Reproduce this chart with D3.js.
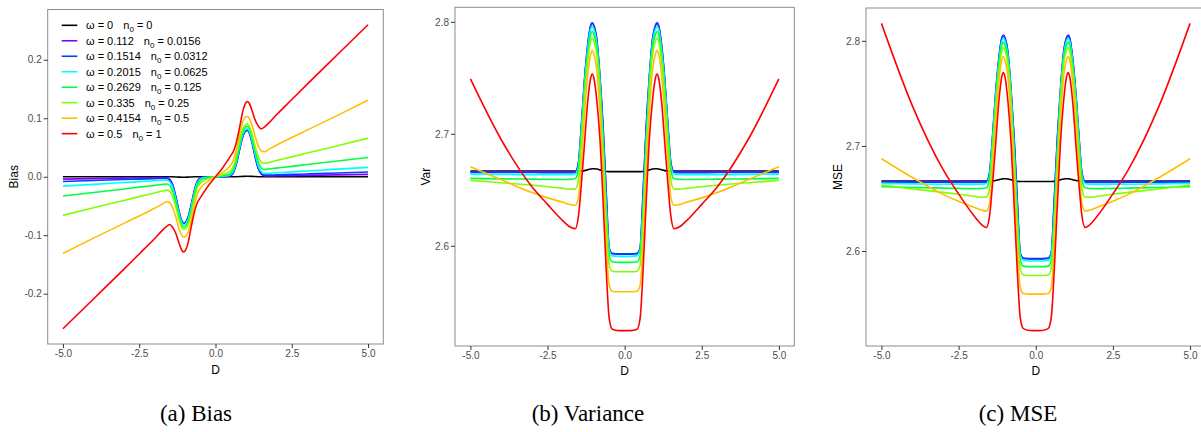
<!DOCTYPE html>
<html>
<head>
<meta charset="utf-8">
<script src="https://cdn.jsdelivr.net/npm/d3@7/dist/d3.min.js"></script>
<style>
  body { margin: 0; background: #fff; }
  svg { display: block; }
</style>
</head>
<body>
<div id="chart"></div>
<script>
// grid of D values shared by every curve
var dGrid = [-5,-4,-3,-2.5,-2,-1.75,-1.6,-1.5,-1.4,-1.3,-1.2,-1.1,-1.05,-1,-0.9,-0.8,-0.7,-0.6,-0.5,-0.4,-0.2,
  0,0.2,0.4,0.5,0.6,0.7,0.8,0.9,1,1.05,1.1,1.2,1.3,1.4,1.5,1.6,1.75,2,2.5,3,4,5];

var omegaLabels = ["0", "0.112", "0.1514", "0.2015", "0.2629", "0.335", "0.4154", "0.5"];
var n0Labels = ["0", "0.0156", "0.0312", "0.0625", "0.125", "0.25", "0.5", "1"];

var xTicks = [-5, -2.5, 0, 2.5, 5];
var biasTicks = [-0.2, -0.1, 0, 0.1, 0.2];
var varTicks = [2.6, 2.7, 2.8];
var mseTicks = [2.6, 2.7, 2.8];

// Bias
var biasW0 = [0,0,0,0,0,0,0,0,-0.0001,-0.0003,-0.0006,-0.0008,-0.0008,-0.0008,-0.0006,-0.0003,-0.0001,0,0,0,0,
  0,0,0,0,0,0.0001,0.0003,0.0006,0.0008,0.0008,0.0008,0.0006,0.0003,0.0001,0,0,0,0,0,0,0,0];
var biasW1 = [-0.004,-0.0032,-0.0024,-0.002,-0.0016,-0.0015,-0.0018,-0.0045,-0.014,-0.034,-0.058,-0.076,-0.0792,-0.0787,-0.069,-0.049,-0.025,-0.008,-0.002,-0.0005,-0.0001,
  0,0.0001,0.0005,0.002,0.008,0.025,0.049,0.069,0.0787,0.0792,0.076,0.058,0.034,0.014,0.0045,0.0018,0.0015,0.0016,0.002,0.0024,0.0032,0.004];
var biasW2 = [-0.008,-0.0064,-0.0048,-0.004,-0.0032,-0.0028,-0.003,-0.0055,-0.015,-0.035,-0.059,-0.0765,-0.0795,-0.079,-0.07,-0.05,-0.026,-0.009,-0.003,-0.001,-0.0003,
  0,0.0003,0.001,0.003,0.009,0.026,0.05,0.07,0.079,0.0795,0.0765,0.059,0.035,0.015,0.0055,0.003,0.0028,0.0032,0.004,0.0048,0.0064,0.008];
var biasW3 = [-0.016,-0.013,-0.0099,-0.0084,-0.0068,-0.006,-0.006,-0.009,-0.019,-0.039,-0.062,-0.079,-0.0821,-0.0815,-0.073,-0.053,-0.029,-0.011,-0.004,-0.0017,-0.0007,
  0,0.0007,0.0017,0.004,0.011,0.029,0.053,0.073,0.0815,0.0821,0.079,0.062,0.039,0.019,0.009,0.006,0.006,0.0068,0.0084,0.0099,0.013,0.016];
var biasW4 = [-0.033,-0.027,-0.0209,-0.0178,-0.0148,-0.0133,-0.0125,-0.015,-0.025,-0.044,-0.067,-0.083,-0.086,-0.0855,-0.077,-0.058,-0.033,-0.014,-0.006,-0.0035,-0.0015,
  0,0.0015,0.0035,0.006,0.014,0.033,0.058,0.077,0.0855,0.086,0.083,0.067,0.044,0.025,0.015,0.0125,0.0133,0.0148,0.0178,0.0209,0.027,0.033];
var biasW5 = [-0.066,-0.053,-0.0405,-0.034,-0.0277,-0.0245,-0.0228,-0.025,-0.034,-0.052,-0.073,-0.087,-0.0901,-0.0895,-0.083,-0.065,-0.04,-0.02,-0.011,-0.007,-0.003,
  0,0.003,0.007,0.011,0.02,0.04,0.065,0.083,0.0895,0.0901,0.087,0.073,0.052,0.034,0.025,0.0228,0.0245,0.0277,0.034,0.0405,0.053,0.066];
var biasW6 = [-0.131,-0.105,-0.0797,-0.067,-0.054,-0.0468,-0.0428,-0.0445,-0.053,-0.069,-0.088,-0.1005,-0.1031,-0.1025,-0.095,-0.075,-0.05,-0.03,-0.02,-0.014,-0.006,
  0,0.006,0.014,0.02,0.03,0.05,0.075,0.095,0.1025,0.1031,0.1005,0.088,0.069,0.053,0.0445,0.0428,0.0468,0.054,0.067,0.0797,0.105,0.131];
var biasW7 = [-0.26,-0.209,-0.158,-0.132,-0.106,-0.092,-0.085,-0.0816,-0.087,-0.097,-0.113,-0.126,-0.1286,-0.127,-0.113,-0.087,-0.062,-0.045,-0.036,-0.028,-0.013,
  0,0.013,0.028,0.036,0.045,0.062,0.087,0.113,0.127,0.1286,0.126,0.113,0.097,0.087,0.0816,0.085,0.092,0.106,0.132,0.158,0.209,0.26];

// Variance
var varW0 = [2.6667,2.6667,2.6667,2.6667,2.6667,2.6667,2.6667,2.6667,2.6668,2.6671,2.6679,2.6686,2.6688,2.6688,2.6686,2.6678,2.6668,2.6663,2.6662,2.6662,2.6662,
  2.6662,2.6662,2.6662,2.6662,2.6663,2.6668,2.6678,2.6686,2.6688,2.6688,2.6686,2.6679,2.6671,2.6668,2.6667,2.6667,2.6667,2.6667,2.6667,2.6667,2.6667,2.6667];
var varW1 = [2.6661,2.6661,2.6661,2.6661,2.6661,2.6661,2.6663,2.674,2.709,2.749,2.779,2.797,2.7992,2.797,2.784,2.751,2.707,2.649,2.598,2.5932,2.5928,
  2.5928,2.5928,2.5932,2.598,2.649,2.707,2.751,2.784,2.797,2.7992,2.797,2.779,2.749,2.709,2.674,2.6663,2.6661,2.6661,2.6661,2.6661,2.6661,2.6661];
var varW2 = [2.6656,2.6655,2.6654,2.6653,2.6653,2.6653,2.6658,2.673,2.708,2.748,2.778,2.7965,2.7988,2.7965,2.783,2.75,2.706,2.648,2.5975,2.593,2.5926,
  2.5926,2.5926,2.593,2.5975,2.648,2.706,2.75,2.783,2.7965,2.7988,2.7965,2.778,2.748,2.708,2.673,2.6658,2.6653,2.6653,2.6653,2.6654,2.6655,2.6656];
var varW3 = [2.664,2.6637,2.6635,2.6634,2.6634,2.6635,2.6642,2.671,2.705,2.745,2.775,2.7935,2.7958,2.7935,2.78,2.747,2.697,2.637,2.596,2.591,2.5906,
  2.5906,2.5906,2.591,2.596,2.637,2.697,2.747,2.78,2.7935,2.7958,2.7935,2.775,2.745,2.705,2.671,2.6642,2.6635,2.6634,2.6634,2.6635,2.6637,2.664];
var varW4 = [2.6602,2.6598,2.6595,2.6593,2.6592,2.6593,2.66,2.667,2.7,2.74,2.77,2.789,2.7914,2.789,2.776,2.742,2.691,2.631,2.591,2.5857,2.5852,
  2.5852,2.5852,2.5857,2.591,2.631,2.691,2.742,2.776,2.789,2.7914,2.789,2.77,2.74,2.7,2.667,2.66,2.6593,2.6592,2.6593,2.6595,2.6598,2.6602];
var varW5 = [2.6584,2.6563,2.6542,2.6528,2.6513,2.6506,2.6508,2.658,2.692,2.733,2.764,2.783,2.7855,2.783,2.77,2.735,2.684,2.623,2.5825,2.5773,2.5768,
  2.5768,2.5768,2.5773,2.5825,2.623,2.684,2.735,2.77,2.783,2.7855,2.783,2.764,2.733,2.692,2.658,2.6508,2.6506,2.6513,2.6528,2.6542,2.6563,2.6584];
var varW6 = [2.6706,2.659,2.6475,2.6428,2.6388,2.6368,2.6362,2.643,2.677,2.718,2.752,2.7715,2.7744,2.7715,2.756,2.719,2.666,2.604,2.5645,2.5595,2.559,
  2.559,2.559,2.5595,2.5645,2.604,2.666,2.719,2.756,2.7715,2.7744,2.7715,2.752,2.718,2.677,2.643,2.6362,2.6368,2.6388,2.6428,2.6475,2.659,2.6706];
var varW7 = [2.749,2.6947,2.6525,2.637,2.6223,2.6165,2.6152,2.626,2.656,2.692,2.728,2.75,2.7534,2.75,2.729,2.695,2.64,2.58,2.535,2.5255,2.5243,
  2.5243,2.5243,2.5255,2.535,2.58,2.64,2.695,2.729,2.75,2.7534,2.75,2.728,2.692,2.656,2.626,2.6152,2.6165,2.6223,2.637,2.6525,2.6947,2.749];

// MSE
var mseW0 = [2.6667,2.6667,2.6667,2.6667,2.6667,2.6667,2.6667,2.6667,2.6668,2.6671,2.6679,2.6686,2.6688,2.6688,2.6686,2.6678,2.6668,2.6663,2.6662,2.6662,2.6662,
  2.6662,2.6662,2.6662,2.6662,2.6663,2.6668,2.6678,2.6686,2.6688,2.6688,2.6686,2.6679,2.6671,2.6668,2.6667,2.6667,2.6667,2.6667,2.6667,2.6667,2.6667,2.6667];
var mseW1 = [2.6661,2.6661,2.6661,2.6661,2.6661,2.6661,2.6663,2.674,2.7092,2.7502,2.7824,2.8028,2.8055,2.8032,2.7888,2.7534,2.7076,2.6491,2.598,2.5932,2.5928,
  2.5928,2.5928,2.5932,2.598,2.6491,2.7076,2.7534,2.7888,2.8032,2.8055,2.8028,2.7824,2.7502,2.7092,2.674,2.6663,2.6661,2.6661,2.6661,2.6661,2.6661,2.6661];
var mseW2 = [2.6657,2.6656,2.6654,2.6653,2.6653,2.6653,2.6658,2.673,2.7082,2.7492,2.7815,2.8024,2.8051,2.8027,2.7879,2.7525,2.7067,2.6481,2.5975,2.593,2.5926,
  2.5926,2.5926,2.593,2.5975,2.6481,2.7067,2.7525,2.7879,2.8027,2.8051,2.8024,2.7815,2.7492,2.7082,2.673,2.6658,2.6653,2.6653,2.6653,2.6654,2.6656,2.6657];
var mseW3 = [2.6643,2.6639,2.6636,2.6635,2.6634,2.6635,2.6642,2.6711,2.7054,2.7465,2.7788,2.7997,2.8025,2.8001,2.7853,2.7498,2.6978,2.6371,2.596,2.591,2.5906,
  2.5906,2.5906,2.591,2.596,2.6371,2.6978,2.7498,2.7853,2.8001,2.8025,2.7997,2.7788,2.7465,2.7054,2.6711,2.6642,2.6635,2.6634,2.6635,2.6636,2.6639,2.6643];
var mseW4 = [2.6613,2.6605,2.6599,2.6596,2.6594,2.6595,2.6602,2.6672,2.7006,2.7419,2.7745,2.7959,2.7988,2.7963,2.7819,2.7454,2.6921,2.6312,2.591,2.5857,2.5852,
  2.5852,2.5852,2.5857,2.591,2.6312,2.6921,2.7454,2.7819,2.7963,2.7988,2.7959,2.7745,2.7419,2.7006,2.6672,2.6602,2.6595,2.6594,2.6596,2.6599,2.6605,2.6613];
var mseW5 = [2.6628,2.6591,2.6558,2.654,2.6521,2.6512,2.6513,2.6586,2.6932,2.7357,2.7693,2.7906,2.7936,2.791,2.7769,2.7392,2.6856,2.6234,2.5826,2.5773,2.5768,
  2.5768,2.5768,2.5773,2.5826,2.6234,2.6856,2.7392,2.7769,2.791,2.7936,2.7906,2.7693,2.7357,2.6932,2.6586,2.6513,2.6512,2.6521,2.654,2.6558,2.6591,2.6628];
var mseW6 = [2.6878,2.67,2.6539,2.6473,2.6417,2.639,2.638,2.645,2.6798,2.7228,2.7597,2.7816,2.785,2.782,2.765,2.7246,2.6685,2.6049,2.5649,2.5597,2.559,
  2.559,2.559,2.5597,2.5649,2.6049,2.6685,2.7246,2.765,2.782,2.785,2.7816,2.7597,2.7228,2.6798,2.645,2.638,2.639,2.6417,2.6473,2.6539,2.67,2.6878];
var mseW7 = [2.8166,2.7384,2.6775,2.6544,2.6335,2.625,2.6224,2.6327,2.6636,2.7014,2.7408,2.7659,2.7699,2.7661,2.7418,2.7026,2.6438,2.582,2.5362,2.5262,2.5245,
  2.5243,2.5245,2.5262,2.5362,2.582,2.6438,2.7026,2.7418,2.7661,2.7699,2.7659,2.7408,2.7014,2.6636,2.6327,2.6224,2.625,2.6335,2.6544,2.6775,2.7384,2.8166];

var seriesColors = ["#000000", "#8000FF", "#0040FF", "#00FFFF", "#00FF40", "#80FF00", "#FFBF00", "#FF0000"];

var panels = [
  { name: "(a) Bias", yLabel: "Bias", yTicks: biasTicks,
    series: [biasW0, biasW1, biasW2, biasW3, biasW4, biasW5, biasW6, biasW7],
    left: 47.7, right: 383.3, top: 9.5, bottom: 344, yLabelX: 18.3, xLabelY: 373.6, capX: 196, legend: true },
  { name: "(b) Variance", yLabel: "Var", yTicks: varTicks,
    series: [varW0, varW1, varW2, varW3, varW4, varW5, varW6, varW7],
    left: 455, right: 794.3, top: 7.3, bottom: 346, yLabelX: 430, xLabelY: 375, capX: 588 },
  { name: "(c) MSE", yLabel: "MSE", yTicks: mseTicks,
    series: [mseW0, mseW1, mseW2, mseW3, mseW4, mseW5, mseW6, mseW7],
    left: 866, right: 1205.5, top: 8, bottom: 346, yLabelX: 841.7, xLabelY: 375, capX: 1018 }
];

var fmt1 = function(d) { return d3.format(".1f")(d).replace("\u2212", "-"); };

var svg = d3.select("#chart")
  .append("svg")
  .attr("width", 1201)
  .attr("height", 432)
  .style("font-family", "'Liberation Sans', Arial, sans-serif");

panels.forEach(function(p) {
  var x = d3.scaleLinear()
    .domain([-5.5, 5.5])
    .range([p.left, p.right]);

  var ext = d3.extent(d3.merge(p.series));
  var pad = (ext[1] - ext[0]) * 0.05;
  var y = d3.scaleLinear()
    .domain([ext[0] - pad, ext[1] + pad])
    .range([p.bottom, p.top]);

  var g = svg.append("g");

  var line = d3.line()
    .x(function(d, i) { return x(dGrid[i]); })
    .y(function(d) { return y(d); })
    .curve(d3.curveMonotoneX);

  g.selectAll("path.curve")
    .data(p.series)
    .enter()
    .append("path")
    .attr("class", "curve")
    .attr("d", line)
    .attr("fill", "none")
    .attr("stroke", function(d, i) { return seriesColors[i]; })
    .attr("stroke-width", 1.6);

  // panel border
  g.append("rect")
    .attr("x", p.left)
    .attr("y", p.top)
    .attr("width", p.right - p.left)
    .attr("height", p.bottom - p.top)
    .attr("fill", "none")
    .attr("stroke", "#8c8c8c")
    .attr("stroke-width", 1);

  var xAxis = g.append("g")
    .attr("transform", "translate(0," + p.bottom + ")")
    .call(d3.axisBottom(x).tickValues(xTicks).tickSize(4).tickPadding(2).tickFormat(fmt1));
  var yAxis = g.append("g")
    .attr("transform", "translate(" + p.left + ",0)")
    .call(d3.axisLeft(y).tickValues(p.yTicks).tickSize(4).tickPadding(2).tickFormat(fmt1));

  [xAxis, yAxis].forEach(function(a) {
    a.select(".domain").remove();
    a.selectAll(".tick line").attr("stroke", "#333333");
    a.selectAll(".tick text")
      .attr("fill", "#4d4d4d")
      .style("font-size", "10px")
      .style("font-family", "'Liberation Sans', Arial, sans-serif");
  });

  g.append("text")
    .attr("x", x(0))
    .attr("y", p.xLabelY)
    .attr("text-anchor", "middle")
    .style("font-size", "12px")
    .text("D");

  g.append("text")
    .attr("transform", "translate(" + p.yLabelX + "," + ((p.top + p.bottom) / 2) + ") rotate(-90)")
    .attr("text-anchor", "middle")
    .style("font-size", "12px")
    .text(p.yLabel);

  svg.append("text")
    .attr("x", p.capX)
    .attr("y", 421)
    .attr("text-anchor", "middle")
    .style("font-family", "'Liberation Serif', 'Times New Roman', serif")
    .style("font-size", "23px")
    .text(p.name);

  if (p.legend) {
    var leg = g.append("g").attr("class", "legend");
    var rows = leg.selectAll("g")
      .data(omegaLabels)
      .enter()
      .append("g")
      .attr("transform", function(d, i) { return "translate(0," + (25.3 + i * 15.48) + ")"; });

    rows.append("line")
      .attr("x1", 61.7)
      .attr("x2", 77.3)
      .attr("stroke", function(d, i) { return seriesColors[i]; })
      .attr("stroke-width", 1.6);

    var t = rows.append("text")
      .attr("x", 86)
      .attr("y", 4)
      .style("font-size", "11px")
      .attr("fill", "#000");
    t.append("tspan").text(function(d) { return "\u03c9 = " + d; });
    t.append("tspan").attr("dx", 10).text("n");
    t.append("tspan").attr("dy", 3).style("font-size", "8px").text("0");
    t.append("tspan").attr("dy", -3).text(function(d, i) { return " = " + n0Labels[i]; });
  }
});
</script>
</body>
</html>
